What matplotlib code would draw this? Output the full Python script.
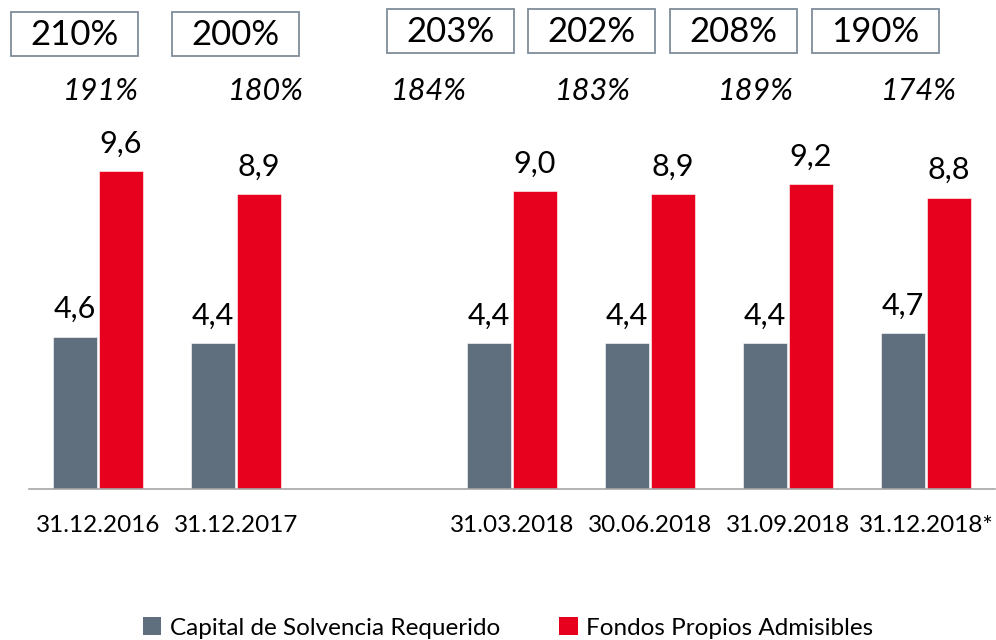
import numpy as np
import matplotlib
matplotlib.use("Agg")
import matplotlib.pyplot as plt
from matplotlib.patches import Rectangle, Patch

plt.rcParams['font.family'] = ['Lato', 'DejaVu Sans']

# ---- data ----
categories = ['31.12.2016', '31.12.2017', '31.03.2018', '30.06.2018', '31.09.2018', '31.12.2018*']
scr_values = [4.6, 4.4, 4.4, 4.4, 4.4, 4.7]
fpa_values = [9.6, 8.9, 9.0, 8.9, 9.2, 8.8]
ratio_boxed = ['210%', '200%', '203%', '202%', '208%', '190%']
ratio_italic = ['191%', '180%', '184%', '183%', '189%', '174%']
series_names = ['Capital de Solvencia Requerido', 'Fondos Propios Admisibles']

# ---- style ----
GRAY = '#5F6F7E'
RED = '#E8001F'
W, H = 996, 640

fig = plt.figure(figsize=(W / 100, H / 100), dpi=100)

def fx(px):
    return px / W

def fy(py):
    return 1 - py / H

ax_left, ax_right, ax_bottom, ax_top = 29, 995, 489, 100
ax = fig.add_axes([fx(ax_left), fy(ax_bottom), fx(ax_right - ax_left), (ax_bottom - ax_top) / H])

# slot positions: a gap slot after the second category
n = len(categories)
x = np.arange(n) + (np.arange(n) >= 2)
bw = 0.315
off = 0.165
b1 = ax.bar(x - off, scr_values, bw, color=GRAY, edgecolor='white', linewidth=0.4)
b2 = ax.bar(x + off, fpa_values, bw, color=RED, edgecolor='white', linewidth=0.4)

for bars, vals in ((b1, scr_values), (b2, fpa_values)):
    for r, v in zip(bars, vals):
        ax.annotate(f"{v:.1f}".replace('.', ','),
                    (r.get_x() + r.get_width() / 2, r.get_height()),
                    xytext=(0, 13.5), textcoords='offset points',
                    ha='center', va='baseline', fontsize=22, color='black')

ax.set_xlim(-0.5, 6.5)
px_per_unit = 33.1
ax.set_ylim(0, (ax_bottom - ax_top) / px_per_unit)
ax.set_yticks([])
ax.set_xticks(x)
ax.set_xticklabels(categories, fontsize=17.5)
ax.tick_params(axis='x', length=0, pad=19)
for s in ('top', 'right', 'left'):
    ax.spines[s].set_visible(False)
ax.spines['bottom'].set_color('#A6A6A6')
ax.spines['bottom'].set_linewidth(1.2)

# boxed ratios (layout positions in pixels)
box_centers = [74, 235.5, 450.5, 591, 733, 875]
box_ycent = [34, 34, 30.5, 30.5, 30.5, 30.5]
bw_px, bh_px = 127, 44
for cx, cy, t in zip(box_centers, box_ycent, ratio_boxed):
    fig.add_artist(Rectangle((fx(cx - bw_px / 2), fy(cy + bh_px / 2)), fx(bw_px), bh_px / H,
                             transform=fig.transFigure, facecolor='white',
                             edgecolor='#7F8C99', linewidth=1.3))
    fig.text(fx(cx), fy(cy + 1), t, ha='center', va='center', fontsize=25, color='black')

# italic ratios
ital_centers = [101, 266, 429, 593, 756, 919]
for cx, t in zip(ital_centers, ratio_italic):
    fig.text(fx(cx), fy(91), t, ha='center', va='center', fontsize=22,
             style='italic', color='black')

handles = [Patch(facecolor=GRAY, edgecolor='none'), Patch(facecolor=RED, edgecolor='none')]
fig.legend(handles, series_names, loc='center', bbox_to_anchor=(fx(508), fy(628)),
           ncol=2, frameon=False, fontsize=17.5, handlelength=0.75, handleheight=0.75,
           handletextpad=0.35, columnspacing=2.45, borderpad=0)

fig.savefig('out.png', dpi=100)
